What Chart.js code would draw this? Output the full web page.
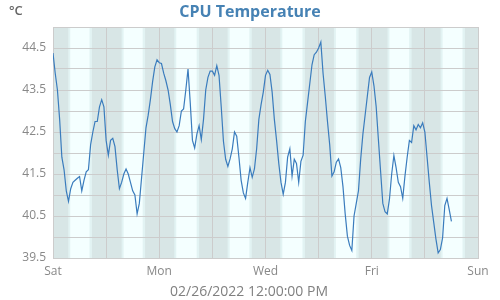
<!DOCTYPE html>
<html>
<head>
<meta charset="utf-8">
<script src="https://cdn.jsdelivr.net/npm/chart.js@4.4.1/dist/chart.umd.min.js"></script>
<style>
  html, body { margin: 0; padding: 0; background: #fff; }
  #wrap { width: 500px; height: 300px; }
</style>
</head>
<body>
<div id="wrap"><canvas id="tempChart" width="500" height="300"></canvas></div>
<script>
// hourly CPU temperature (°C), starting Sat 00:00, last reading Sat 12:00 a week later
const temps = [
  44.38, 43.9, 43.5, 42.8, 41.9, 41.6, 41.1, 40.85, 41.15, 41.3,
  41.35, 41.4, 41.44, 41.1, 41.35, 41.55, 41.6, 42.2, 42.5, 42.75,
  42.75, 43.1, 43.27, 43.1, 42.3, 41.95, 42.3, 42.35, 42.15, 41.6,
  41.15, 41.3, 41.5, 41.62, 41.5, 41.3, 41.1, 41.0, 40.55, 40.8,
  41.4, 42.0, 42.6, 42.9, 43.27, 43.7, 44.05, 44.22, 44.15, 44.13,
  43.9, 43.72, 43.5, 43.15, 42.75, 42.58, 42.5, 42.65, 43.0, 43.05,
  43.5, 44.0, 43.2, 42.3, 42.12, 42.45, 42.65, 42.32, 42.8, 43.5,
  43.8, 43.95, 43.95, 43.85, 44.08, 43.85, 43.1, 42.28, 41.85, 41.68,
  41.86, 42.1, 42.5, 42.4, 41.9, 41.35, 41.05, 40.92, 41.3, 41.65,
  41.42, 41.62, 42.1, 42.8, 43.15, 43.45, 43.85, 43.97, 43.87, 43.45,
  42.8, 42.3, 41.75, 41.3, 41.02, 41.3, 41.9, 42.1, 41.45, 41.85,
  41.75, 41.3, 41.8, 41.95, 42.75, 43.2, 43.65, 44.1, 44.34, 44.4,
  44.5, 44.64, 43.9, 43.35, 42.75, 42.2, 41.45, 41.55, 41.78, 41.86,
  41.65, 41.2, 40.55, 40.02, 39.8, 39.68, 40.5, 40.8, 41.1, 41.85,
  42.45, 42.9, 43.35, 43.8, 43.93, 43.6, 43.1, 42.32, 41.56, 40.8,
  40.6, 40.55, 40.9, 41.5, 41.94, 41.65, 41.3, 41.2, 40.92, 41.45,
  41.9, 42.3, 42.25, 42.65, 42.55, 42.68, 42.6, 42.72, 42.5, 41.9,
  41.3, 40.75, 40.35, 39.95, 39.62, 39.7, 39.98, 40.75, 40.92, 40.65,
  40.37
];
const hours = temps.map((_, i) => i);

const dayNames = ['Sat', 'Sun', 'Mon', 'Tue', 'Wed', 'Thu', 'Fri', 'Sat', 'Sun'];
const yTicks = [39.5, 40.5, 41.5, 42.5, 43.5, 44.5];

// daylight per day, in hours after midnight
const sunrise = [6.9, 7.0, 6.8, 6.9, 6.7, 6.9, 7.1, 7.1];
const sunset  = [17.6, 17.6, 18.0, 17.8, 17.8, 18.1, 18.0, 18.1];

const NIGHT = '#d8e6e6';
const DAY = '#f4ffff';
const TWILIGHT = '#e2f3f3';
const GRID = '#cccccc';
const FONT = "'Open Sans', 'Noto Sans', sans-serif";

const dayNightBands = {
  id: 'dayNightBands',
  beforeDraw(chart) {
    const { ctx, chartArea: a, scales: { x } } = chart;
    ctx.save();
    ctx.fillStyle = NIGHT;
    ctx.fillRect(a.left, a.top, a.width, a.height);
    sunrise.forEach((rise, d) => {
      const x0 = x.getPixelForValue(d * 24 + rise);
      const x1 = x.getPixelForValue(d * 24 + sunset[d]);
      const i0 = x.getPixelForValue(d * 24 + rise + 0.9);
      const i1 = x.getPixelForValue(d * 24 + sunset[d] - 1.1);
      ctx.fillStyle = TWILIGHT;
      ctx.fillRect(x0, a.top, x1 - x0, a.height);
      ctx.fillStyle = DAY;
      ctx.fillRect(i0, a.top, i1 - i0, a.height);
    });
    ctx.restore();
  }
};

const chartTexts = {
  id: 'chartTexts',
  afterDraw(chart) {
    const { ctx } = chart;
    ctx.save();
    ctx.textBaseline = 'middle';
    ctx.textAlign = 'left';
    ctx.fillStyle = '#666666';
    ctx.font = `600 13px ${FONT}`;
    ctx.fillText('°C', 9, 11);
    ctx.textAlign = 'center';
    ctx.fillStyle = '#4682b4';
    ctx.font = `bold 16px ${FONT}`;
    ctx.fillText('CPU Temperature', 250, 12);
    ctx.fillStyle = '#808080';
    ctx.font = `14px ${FONT}`;
    ctx.fillText('02/26/2022 12:00:00 PM', 249, 292);
    ctx.restore();
  }
};

new Chart(document.getElementById('tempChart'), {
  type: 'line',
  data: {
    datasets: [{
      data: hours.map((h, i) => ({ x: h, y: temps[i] })),
      borderColor: '#3a7cbd',
      borderWidth: 1.2,
      pointRadius: 0,
      tension: 0,
      fill: false
    }]
  },
  options: {
    responsive: false,
    animation: false,
    devicePixelRatio: 1,
    layout: { padding: { top: 27, right: 22, left: 0, bottom: 0 } },
    plugins: {
      legend: { display: false },
      tooltip: { enabled: false },
      title: { display: false }
    },
    scales: {
      x: {
        type: 'linear',
        min: 0,
        max: 192,
        afterFit: s => { s.height = 42; },
        ticks: {
          stepSize: 24,
          autoSkip: false,
          maxRotation: 0,
          padding: 6,
          color: '#888888',
          font: { family: FONT, size: 12 },
          callback: v => (v % 48 === 0 ? dayNames[v / 24] : '')
        },
        grid: { color: GRID, drawTicks: false },
        border: { color: GRID }
      },
      y: {
        min: 39.5,
        max: 45,
        afterFit: s => { s.width = 53; },
        ticks: {
          stepSize: 0.5,
          padding: 7,
          color: '#888888',
          font: { family: FONT, size: 12 },
          callback: v => (yTicks.some(t => Math.abs(t - v) < 0.01) ? v.toFixed(1) : '')
        },
        grid: { color: GRID, drawTicks: false },
        border: { color: GRID }
      }
    }
  },
  plugins: [dayNightBands, chartTexts]
});
</script>
</body>
</html>
